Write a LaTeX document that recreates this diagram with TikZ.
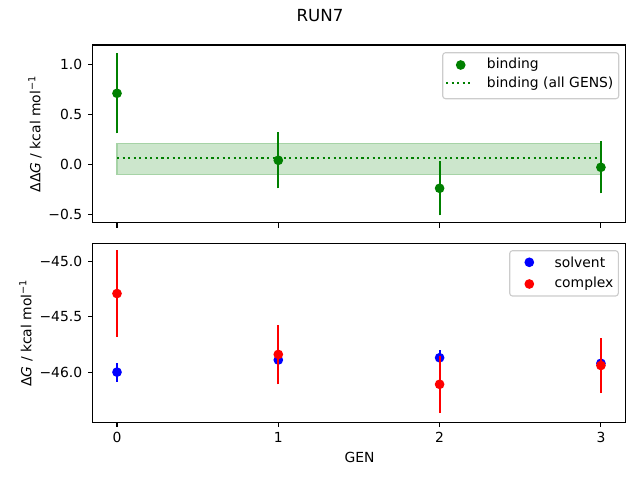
\documentclass[tikz,border=0pt]{standalone}
\usepackage{fontspec}
\setmainfont{DejaVu Sans}
\usepackage{tikz}
\usepackage{xcolor}

\definecolor{mplgreen}{RGB}{0,128,0}
\definecolor{mplblue}{RGB}{0,0,255}
\definecolor{mplred}{RGB}{255,0,0}
\definecolor{legendedge}{RGB}{204,204,204}

\tikzset{
	frame/.style={draw=black, line width=0.8pt},
	tick/.style={line width=0.8pt},
	errbar/.style={line width=1.5pt},
	dot/.style={radius=3.5pt},
	ticklabel/.style={inner sep=0pt, font=\fontsize{10}{12}\selectfont},
	legendbox/.style={draw=legendedge, fill=white, rounded corners=2pt, line width=0.8pt},
}

\begin{document}
\begin{tikzpicture}[x=0.72pt, y=0.72pt]
		\useasboundingbox (0,0) rectangle (640,480);
		\node[font=\fontsize{12}{14}\selectfont] (title) at (320,464) {RUN7};
		% top panel: binding
		\begin{scope}[shift={(117,315.7)}, x=116.14pt, y=72pt]
			\coordinate (tl) at (-0.15,1.193);
			\coordinate (br) at (3.15,-0.584);
			\filldraw[fill=mplgreen!20, draw=mplgreen!35, line width=1pt] (0,-0.10) rectangle (3,0.21);
			\draw[mplgreen, line width=1.5pt, dash pattern=on 1.5pt off 2.5pt] (0,0.066) -- (3,0.066);
			\foreach \g/\v/\e in {0/0.71/0.40, 1/0.04/0.28, 2/-0.24/0.27, 3/-0.03/0.26} {
				\draw[mplgreen, errbar] (\g,\v-\e) -- (\g,\v+\e);
				\fill[mplgreen] (\g,\v) circle[dot];
			}
			\draw[frame] (tl) rectangle (br);
			\foreach \g in {0,1,2,3}
				\draw[tick] (\g,-0.584) -- ++(0,-3.5pt);
			\foreach \v/\t in {1.0/1.0, 0.5/0.5, 0.0/0.0, -0.5/−0.5} {
				\draw[tick] (-0.15,\v) -- ++(-3.5pt,0);
				\node[ticklabel, anchor=east, xshift=-7.5pt] at (-0.15,\v) {\t};
			}
		\end{scope}
		\node[rotate=90, font=\fontsize{10}{12}\selectfont] (ylabtop) at (35,346) {ΔΔ\textit{G} / kcal mol\textsuperscript{−1}};
		% legend top
		\draw[legendbox] (442.7,427.3) rectangle (618.7,381.3);
		\fill[mplgreen] (460.7,415) circle[dot];
		\node[ticklabel, anchor=west] (legbind) at (486.7,415) {binding};
		\draw[mplgreen, line width=1.5pt, dash pattern=on 1.5pt off 2.5pt] (446,396.7) -- (472,396.7);
		\node[ticklabel, anchor=west] (legall) at (486.7,396.7) {binding (all GENS)};
		% bottom panel: solvent and complex
		\begin{scope}[shift={(117,5199.8)}, x=116.14pt, y=79.7pt]
			\coordinate (tl2) at (-0.15,-44.834);
			\coordinate (br2) at (3.15,-46.451);
			\foreach \g/\v/\e in {0/-46.00/0.085, 1/-45.89/0.03, 2/-45.87/0.07, 3/-45.92/0.03} {
				\draw[mplblue, errbar] (\g,\v-\e) -- (\g,\v+\e);
				\fill[mplblue] (\g,\v) circle[dot];
			}
			\foreach \g/\v/\e in {0/-45.29/0.39, 1/-45.84/0.27, 2/-46.11/0.26, 3/-45.94/0.25} {
				\draw[mplred, errbar] (\g,\v-\e) -- (\g,\v+\e);
				\fill[mplred] (\g,\v) circle[dot];
			}
			\draw[frame] (tl2) rectangle (br2);
			\foreach \g in {0,1,2,3} {
				\draw[tick] (\g,-46.451) -- ++(0,-3.5pt);
				\node[ticklabel, anchor=north, yshift=-7pt] at (\g,-46.451) {\g};
			}
			\foreach \v/\t in {-45.0/−45.0, -45.5/−45.5, -46.0/−46.0} {
				\draw[tick] (-0.15,\v) -- ++(-3.5pt,0);
				\node[ticklabel, anchor=east, xshift=-7.5pt] at (-0.15,\v) {\t};
			}
		\end{scope}
		\node[rotate=90, font=\fontsize{10}{12}\selectfont] (ylabbot) at (26,147) {Δ\textit{G} / kcal mol\textsuperscript{−1}};
		\node[font=\fontsize{10}{12}\selectfont] (xlab) at (359.5,22.3) {GEN};
		% legend bottom
		\draw[legendbox] (509.7,229.3) rectangle (618.3,184);
		\fill[mplblue] (529.3,217.7) circle[dot];
		\node[ticklabel, anchor=west] (legsolv) at (554.3,217.7) {solvent};
		\fill[mplred] (529.3,196) circle[dot];
		\node[ticklabel, anchor=west] (legcomp) at (554.3,196) {complex};
	\end{tikzpicture}
\end{document}
